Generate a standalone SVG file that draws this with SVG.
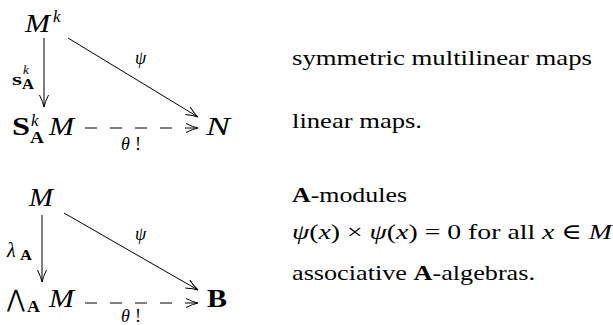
<svg xmlns="http://www.w3.org/2000/svg" width="613" height="325" viewBox="0 0 613 325" font-family="Liberation Serif, DejaVu Serif, Times New Roman, serif">
<defs>
<style>
text{fill:#000}
.m{font-style:italic;font-size:25px}
.b{font-weight:bold;font-size:25px}
.sup{font-style:italic;font-size:17px}
.sb{font-weight:bold;font-size:16px}
.lab{font-style:italic;font-size:18px}
.t{font-size:22px}
.ar{fill:none;stroke:#000;stroke-width:1}
.dash{stroke-dasharray:12 13}
</style>
<marker id="to" viewBox="-13 -6 14 12" refX="0" refY="0" markerWidth="14" markerHeight="12" markerUnits="userSpaceOnUse" orient="auto" overflow="visible">
<path d="M -12 -4.5 Q -5 -1 0 0 Q -5 1 -12 4.5" fill="none" stroke="#000" stroke-width="1"/>
</marker>
</defs>
<rect width="613" height="325" fill="#fff"/>

<g id="connectors">
<line class="ar" x1="44" y1="38" x2="44" y2="107" marker-end="url(#to)"/>
<line class="ar" x1="68" y1="38" x2="198" y2="117" marker-end="url(#to)"/>
<line class="ar dash" x1="85" y1="128" x2="198" y2="128" marker-end="url(#to)"/>
<line class="ar" x1="42" y1="215" x2="42" y2="282" marker-end="url(#to)"/>
<line class="ar" x1="64" y1="213" x2="198" y2="290" marker-end="url(#to)"/>
<line class="ar dash" x1="85" y1="303" x2="198" y2="303" marker-end="url(#to)"/>
</g>

<g id="n-Mk">
<text class="m" x="25" y="32" textLength="25" lengthAdjust="spacingAndGlyphs">M</text>
<text class="sup" x="53" y="22">k</text>
</g>
<g id="n-SkAM">
<text class="b" x="12" y="135" textLength="18" lengthAdjust="spacingAndGlyphs">S</text>
<text class="sup" x="31" y="126">k</text>
<text class="sb" x="30" y="143" textLength="14" lengthAdjust="spacingAndGlyphs">A</text>
<text class="m" x="49" y="135" textLength="25" lengthAdjust="spacingAndGlyphs">M</text>
</g>
<g id="n-N">
<text class="m" x="206" y="135" textLength="24" lengthAdjust="spacingAndGlyphs">N</text>
</g>
<g id="labels-top">
<text class="sb" x="12" y="85" textLength="10" lengthAdjust="spacingAndGlyphs">s</text>
<text style="font-style:italic;font-size:13px" x="23" y="74">k</text>
<text style="font-weight:bold;font-size:14px" x="22" y="89" textLength="12" lengthAdjust="spacingAndGlyphs">A</text>
<text class="lab" x="135" y="64">ψ</text>
<text class="lab" x="121" y="150">θ</text>
<text style="font-size:18px" x="135" y="150">!</text>
</g>

<g id="n-M">
<text class="m" x="29" y="206" textLength="24" lengthAdjust="spacingAndGlyphs">M</text>
</g>
<g id="n-LAM">
<text style="font-size:24px" x="7" y="307" textLength="18" lengthAdjust="spacingAndGlyphs">⋀</text>
<text class="sb" x="27" y="312" textLength="13" lengthAdjust="spacingAndGlyphs">A</text>
<text class="m" x="49" y="307" textLength="25" lengthAdjust="spacingAndGlyphs">M</text>
</g>
<g id="n-B">
<text class="b" x="207" y="307" textLength="20" lengthAdjust="spacingAndGlyphs">B</text>
</g>
<g id="labels-bottom">
<text style="font-style:italic;font-size:20px" x="7" y="257">λ</text>
<text style="font-weight:bold;font-size:14px" x="20" y="260" textLength="12" lengthAdjust="spacingAndGlyphs">A</text>
<text class="lab" x="135" y="240">ψ</text>
<text class="lab" x="121" y="322">θ</text>
<text style="font-size:18px" x="135" y="322">!</text>
</g>

<g id="text-right">
<text class="t" x="292" y="65" textLength="300" lengthAdjust="spacingAndGlyphs">symmetric multilinear maps</text>
<text class="t" x="292" y="128" textLength="130" lengthAdjust="spacingAndGlyphs">linear maps.</text>
<text class="t" x="292" y="202" textLength="115" lengthAdjust="spacingAndGlyphs"><tspan font-weight="bold">A</tspan>-modules</text>
<text class="t" x="292" y="239" textLength="320" lengthAdjust="spacingAndGlyphs"><tspan font-style="italic">ψ</tspan>(<tspan font-style="italic">x</tspan>) × <tspan font-style="italic">ψ</tspan>(<tspan font-style="italic">x</tspan>) = 0 for all <tspan font-style="italic">x</tspan> ∈ <tspan font-style="italic">M</tspan></text>
<text class="t" x="292" y="280" textLength="243" lengthAdjust="spacingAndGlyphs">associative <tspan font-weight="bold">A</tspan>-algebras.</text>
</g>
</svg>
